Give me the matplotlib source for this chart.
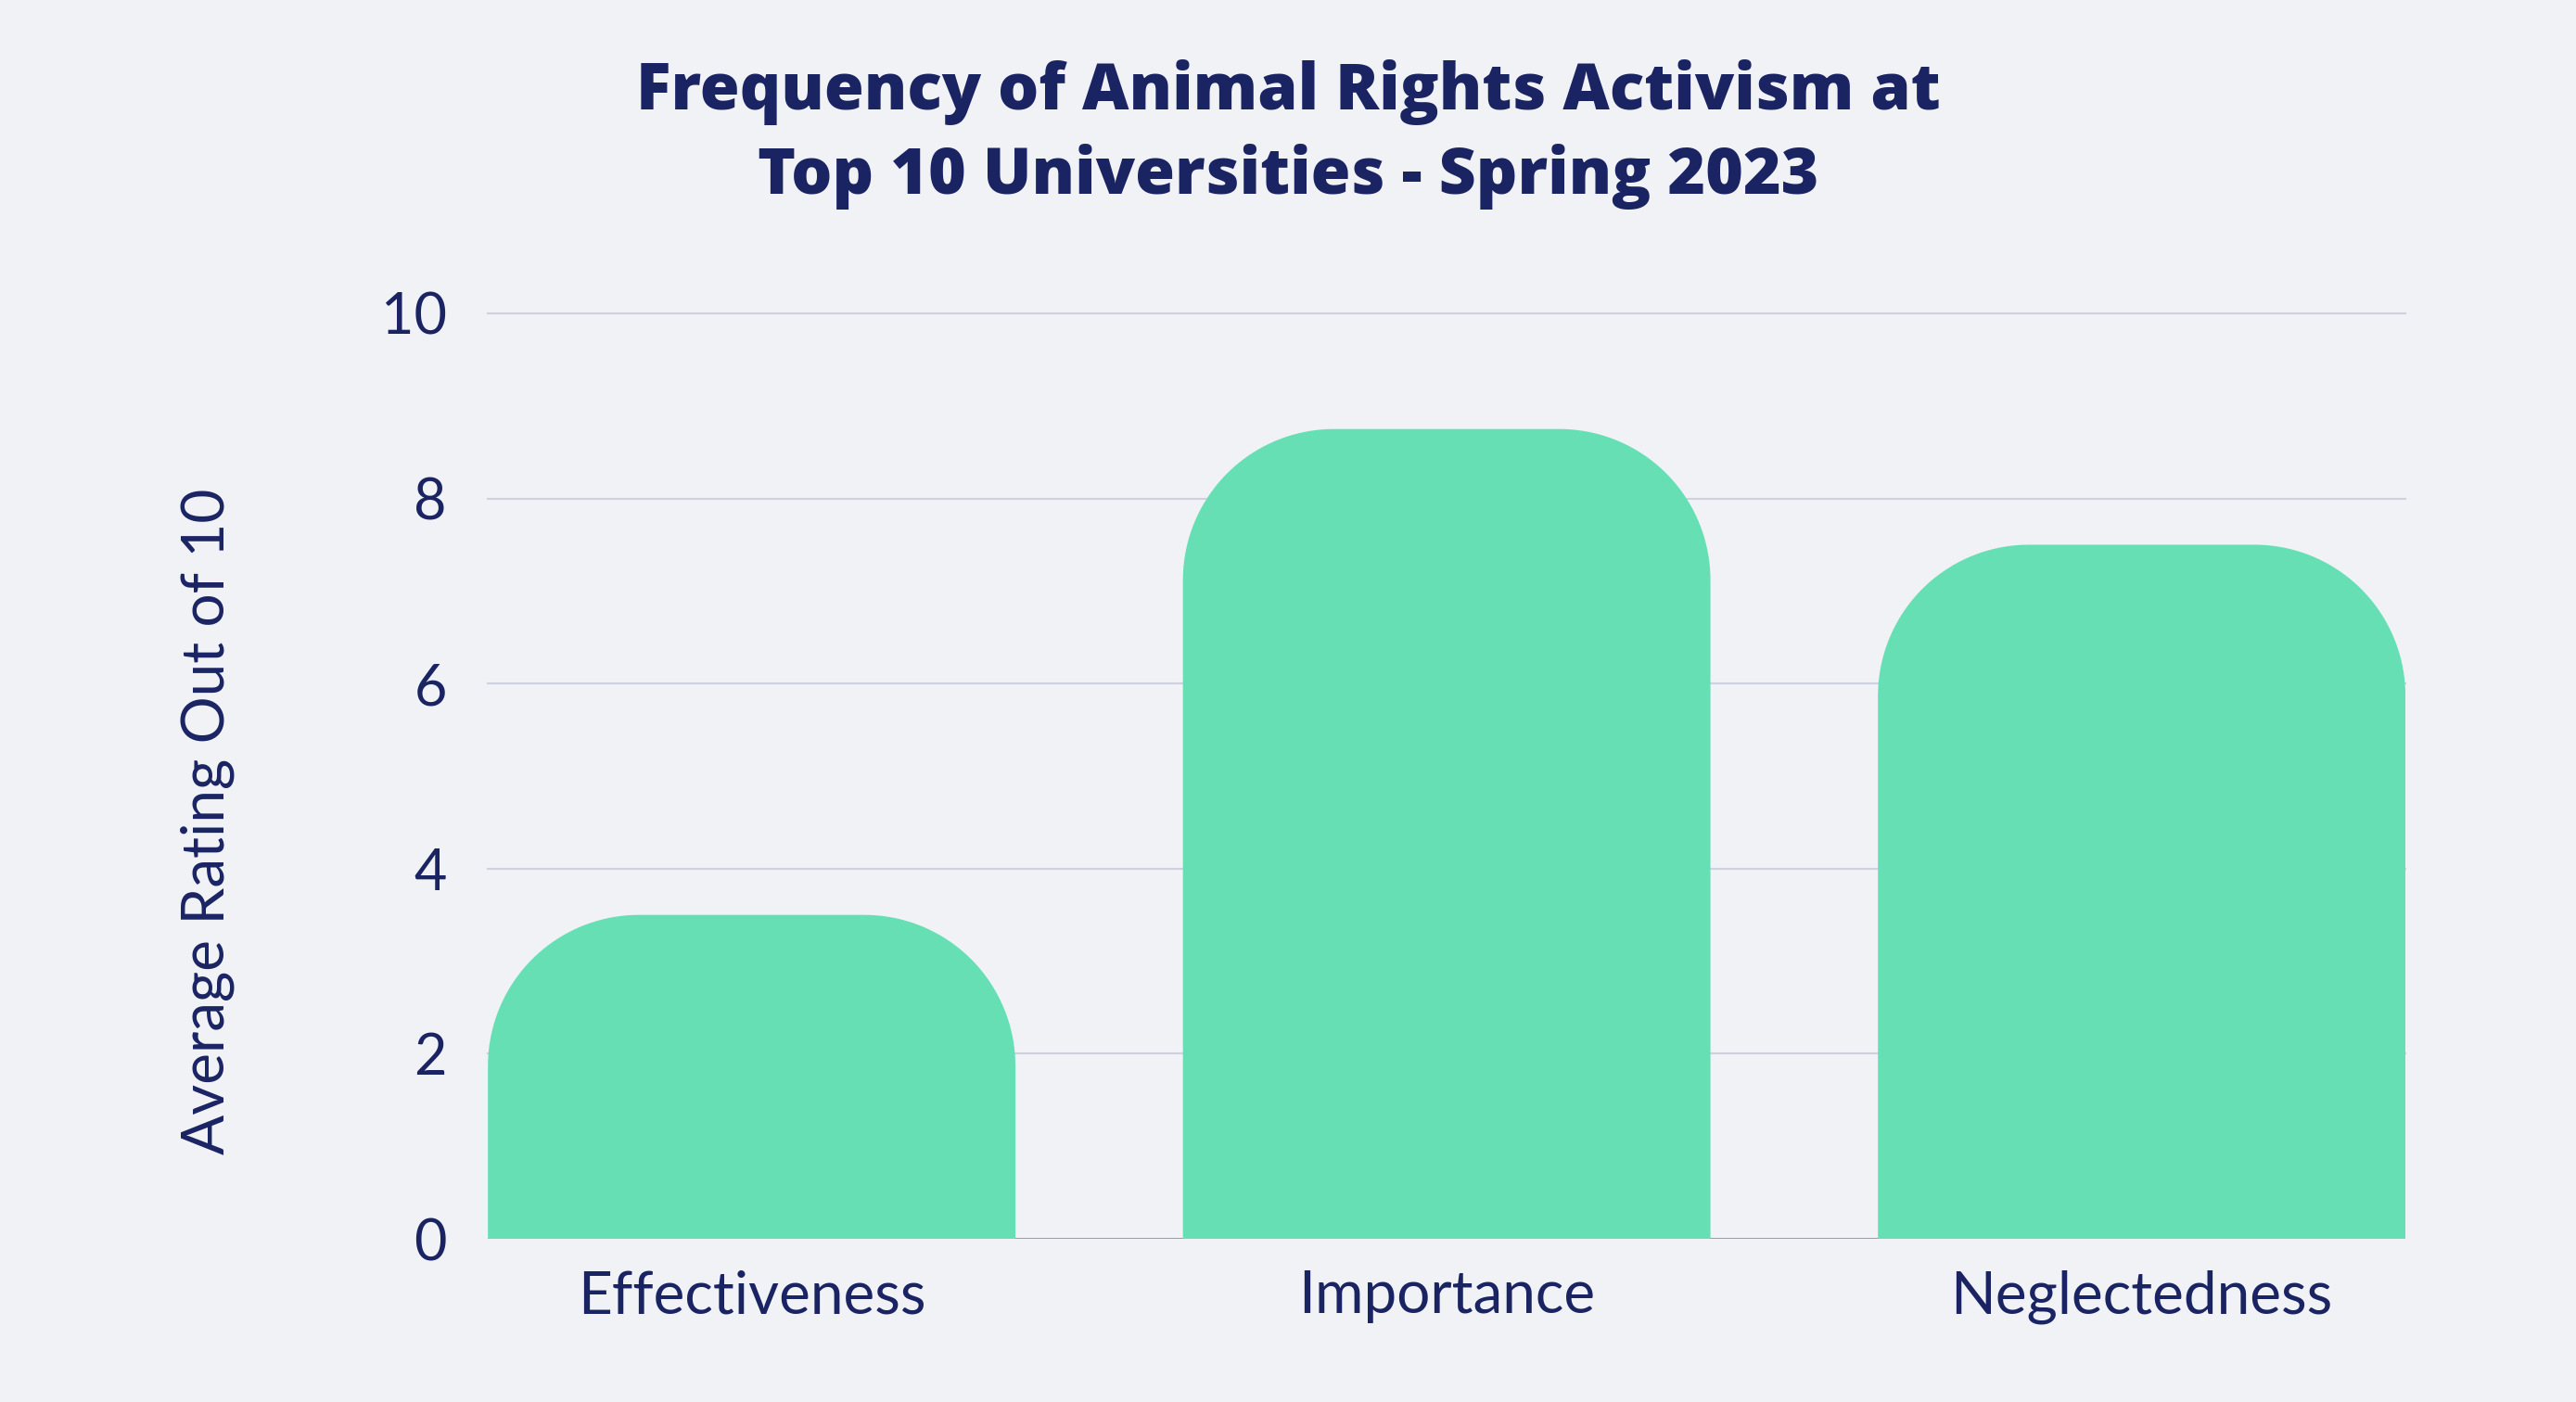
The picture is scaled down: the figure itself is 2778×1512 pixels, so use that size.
import numpy as np
import matplotlib
matplotlib.use("Agg")
import matplotlib.pyplot as plt
from matplotlib.patches import Polygon

categories = ["Effectiveness", "Importance", "Neglectedness"]
ratings = [3.5, 8.75, 7.5]
yticks = [0, 2, 4, 6, 8, 10]

bg = "#F0F2F6"
bar_col = "#67DFB5"
navy = "#1B2463"
grid_col = "#CDD1E0"

fig = plt.figure(figsize=(27.78, 15.12), dpi=100, facecolor=bg)
ax = fig.add_axes([0.1894, 0.1164, 0.7444, 0.6601], facecolor=bg)

bar_w = 0.759
ax.set_xlim(-bar_w / 2, len(categories) - 1 + bar_w / 2)
ax.set_ylim(0, 10)

# corner radius ~163 px, converted to data units on each axis
fig.canvas.draw()
bbox = ax.get_window_extent()
rad_px = 163
rx = rad_px * (ax.get_xlim()[1] - ax.get_xlim()[0]) / bbox.width
ry = rad_px * 10 / bbox.height

for i, v in enumerate(ratings):
    x0, x1 = i - bar_w / 2, i + bar_w / 2
    pts = [(x0, 0)]
    # top-left corner, from left side up to the top
    for a in np.linspace(np.pi, np.pi / 2, 40):
        pts.append((x0 + rx + rx * np.cos(a), v - ry + ry * np.sin(a)))
    # top-right corner, from top down to the right side
    for a in np.linspace(np.pi / 2, 0, 40):
        pts.append((x1 - rx + rx * np.cos(a), v - ry + ry * np.sin(a)))
    pts.append((x1, 0))
    ax.add_patch(Polygon(pts, closed=True, facecolor=bar_col, edgecolor="none", zorder=3))

for y in yticks[1:]:
    ax.axhline(y, color=grid_col, lw=1.5, zorder=1, clip_on=False)
ax.axhline(0, color="#7480B4", lw=1.8, zorder=2)

for s in ax.spines.values():
    s.set_visible(False)

ax.set_xticks(range(len(categories)))
ax.set_xticklabels(categories, fontsize=46, color=navy, family="Lato")
ax.set_yticks(yticks)
ax.set_yticklabels([str(y) for y in yticks], fontsize=44, color=navy, family="Lato")
ax.tick_params(axis="x", length=0, pad=24)
ax.tick_params(axis="y", length=0, pad=32)

ax.set_ylabel("Average Rating Out of 10", fontsize=46, color=navy, family="Lato")
ax.yaxis.set_label_coords(-0.132, 0.451)

fig.text(0.5, 0.958, "Frequency of Animal Rights Activism at\nTop 10 Universities - Spring 2023",
         ha="center", va="top", fontsize=50, fontweight="heavy", color=navy,
         family="Open Sans", linespacing=1.38)

fig.savefig("out.png", dpi=100, facecolor=bg)
